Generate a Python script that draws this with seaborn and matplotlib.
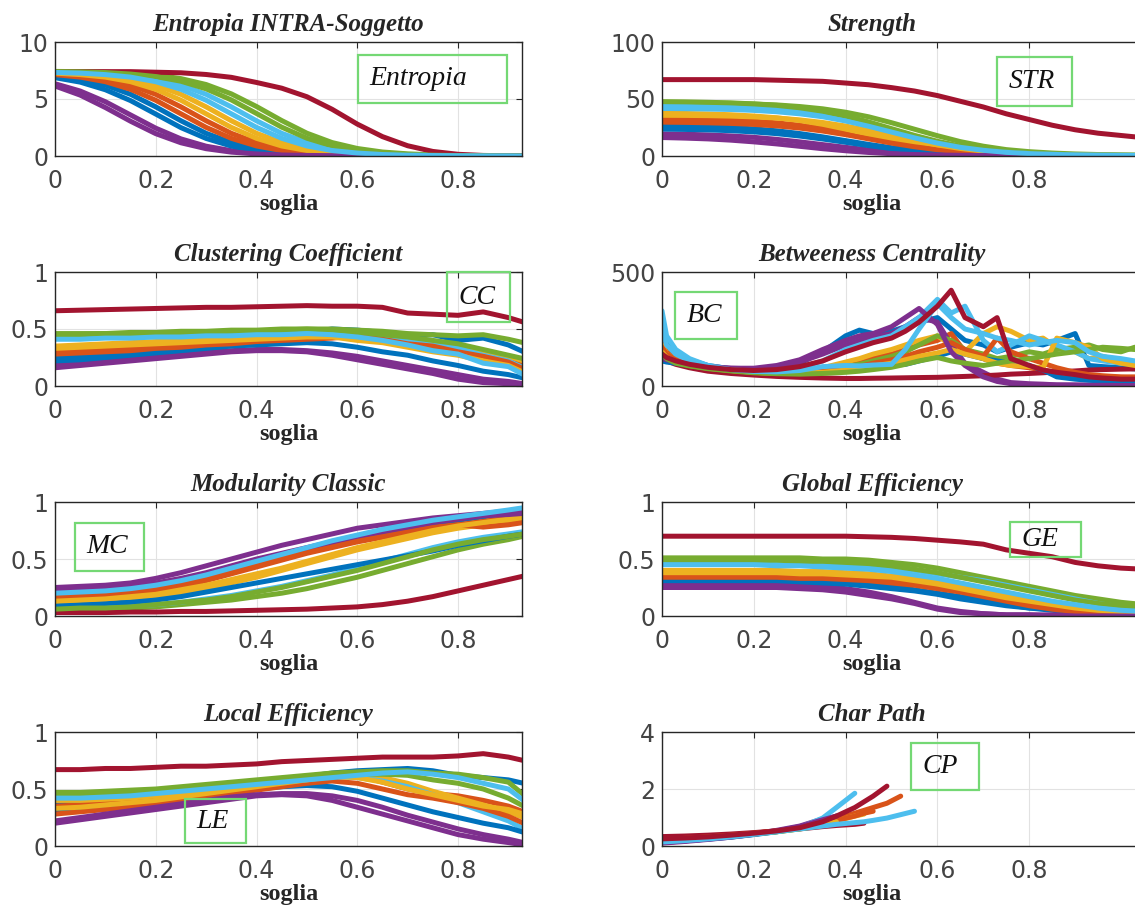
import numpy as np
import pandas as pd
import matplotlib
matplotlib.use("Agg")
import matplotlib.pyplot as plt
from matplotlib.patches import Rectangle
import seaborn as sns

nan = np.nan

# soglie (asse x) dei pannelli
soglia_sx = [0, .05, .10, .15, .20, .25, .30, .35, .40, .45, .50, .55, .60, .65, .70, .75, .80, .85, .90, .93]
soglia_dx = [0, .05, .10, .15, .20, .25, .30, .35, .40, .45, .50, .55, .60, .65, .70, .75, .80, .85, .90, .95, 1.0, 1.05]
soglia_bc = [0, .01, .03, .06, .1, .15, .2, .25, .3, .35, .4, .43, .46, .5, .53, .56, .6, .63, .66, .7,
             .73, .76, .8, .83, .86, .9, .93, .96, 1.0, 1.03, 1.05]
soglia_cp = [0, .05, .1, .15, .2, .25, .3, .35, .38, .42, .44, .46, .49, .52, .55]

# ordine colori MATLAB
colori = ["#0072BD", "#D95319", "#EDB120", "#7E2F8E", "#77AC30", "#4DBEEE", "#A2142F",
          "#0072BD", "#D95319", "#EDB120", "#7E2F8E", "#77AC30", "#4DBEEE", "#A2142F"]

xtick_lab = ["0", "0.2", "0.4", "0.6", "0.8"]

entropia = [
    [7.05, 6.75, 6.22, 5.41, 4.31, 3.09, 1.99, 1.18, 0.65, 0.35, 0.19, 0.10, 0.05, 0.03, 0.02, 0.01, 0.01, 0, 0, 0],
    [7.2, 7.05, 6.75, 6.22, 5.41, 4.31, 3.09, 1.99, 1.18, 0.65, 0.35, 0.19, 0.10, 0.05, 0.03, 0.02, 0.01, 0.01, 0, 0],
    [7.3, 7.2, 7.05, 6.75, 6.22, 5.41, 4.31, 3.09, 1.99, 1.18, 0.65, 0.35, 0.19, 0.10, 0.05, 0.03, 0.02, 0.01, 0.01, 0],
    [6.34, 5.70, 4.76, 3.60, 2.44, 1.50, 0.86, 0.47, 0.25, 0.13, 0.06, 0.04, 0.02, 0.01, 0.01, 0, 0, 0, 0, 0],
    [7.42, 7.4, 7.35, 7.26, 7.1, 6.79, 6.27, 5.45, 4.34, 3.11, 2.0, 1.18, 0.66, 0.35, 0.19, 0.10, 0.05, 0.03, 0.02, 0.01],
    [7.35, 7.3, 7.2, 7.05, 6.75, 6.22, 5.41, 4.31, 3.09, 1.99, 1.18, 0.65, 0.35, 0.19, 0.10, 0.05, 0.03, 0.02, 0.01, 0.01],
    [7.4, 7.4, 7.4, 7.4, 7.35, 7.3, 7.15, 6.9, 6.45, 5.95, 5.2, 4.1, 2.8, 1.7, 0.9, 0.4, 0.15, 0.05, 0.02, 0.0],
    [6.87, 6.48, 5.81, 4.86, 3.68, 2.49, 1.54, 0.87, 0.48, 0.26, 0.13, 0.07, 0.04, 0.02, 0.01, 0, 0, 0, 0, 0],
    [7.14, 6.92, 6.52, 5.85, 4.89, 3.7, 2.51, 1.55, 0.88, 0.48, 0.26, 0.13, 0.07, 0.04, 0.02, 0.01, 0, 0, 0, 0],
    [7.27, 7.14, 6.92, 6.52, 5.85, 4.89, 3.7, 2.51, 1.55, 0.88, 0.48, 0.26, 0.13, 0.07, 0.04, 0.02, 0.01, 0, 0, 0],
    [6.14, 5.34, 4.25, 3.05, 1.96, 1.16, 0.64, 0.34, 0.18, 0.09, 0.05, 0.03, 0.02, 0.01, 0, 0, 0, 0, 0, 0],
    [7.41, 7.38, 7.32, 7.19, 6.97, 6.56, 5.89, 4.92, 3.73, 2.53, 1.56, 0.89, 0.48, 0.26, 0.13, 0.07, 0.04, 0.02, 0.01, 0.01],
    [7.33, 7.27, 7.14, 6.92, 6.52, 5.85, 4.89, 3.7, 2.51, 1.55, 0.88, 0.48, 0.26, 0.13, 0.07, 0.04, 0.02, 0.01, 0.01, 0],
]

strength = [
    [26.5, 26.2, 25.7, 24.9, 23.8, 22.1, 19.7, 16.8, 13.5, 10.2, 7.3, 4.9, 3.2, 2.1, 1.4, 1.0, 0.8, 0.6, 0.5, 0.4, 0.3, 0.3],
    [32.6, 32.4, 32.0, 31.4, 30.5, 29.1, 27.0, 24.1, 20.5, 16.5, 12.5, 8.9, 6.0, 3.9, 2.5, 1.6, 1.1, 0.8, 0.6, 0.5, 0.4, 0.3],
    [37.6, 37.3, 36.9, 36.2, 35.1, 33.5, 31.1, 27.8, 23.6, 19.0, 14.4, 10.2, 6.9, 4.5, 2.9, 1.9, 1.2, 0.9, 0.7, 0.5, 0.4, 0.3],
    [19.4, 19.1, 18.5, 17.6, 16.4, 14.6, 12.4, 10.0, 7.6, 5.4, 3.6, 2.4, 1.5, 1.0, 0.7, 0.5, 0.4, 0.3, 0.2, 0.2, 0.1, 0.1],
    [46.8, 46.7, 46.5, 46.2, 45.6, 44.8, 43.4, 41.4, 38.4, 34.4, 29.2, 23.5, 17.8, 12.6, 8.6, 5.6, 3.8, 2.6, 1.8, 1.3, 1.0, 0.8],
    [43.7, 43.5, 43.2, 42.7, 41.9, 40.7, 38.8, 36.0, 32.2, 27.4, 22.0, 16.6, 11.8, 8.0, 5.2, 3.4, 2.2, 1.5, 1.1, 0.8, 0.6, 0.5],
    [67, 67, 67, 67, 67, 66.5, 66, 65.5, 64, 62.5, 60, 57, 53, 48, 43, 37, 32, 27, 23, 20, 18, 16],
    [23.6, 23.3, 22.9, 22.2, 21.1, 19.6, 17.5, 14.9, 12.0, 9.1, 6.5, 4.4, 2.9, 1.8, 1.2, 0.8, 0.6, 0.4, 0.3, 0.3, 0.2, 0.2],
    [29.7, 29.5, 29.1, 28.6, 27.7, 26.4, 24.5, 21.9, 18.7, 15.0, 11.3, 8.1, 5.5, 3.6, 2.3, 1.5, 1.0, 0.7, 0.5, 0.4, 0.3, 0.3],
    [35.7, 35.6, 35.4, 35.0, 34.3, 33.3, 31.7, 29.4, 26.3, 22.4, 18.0, 13.6, 9.7, 6.6, 4.3, 2.7, 1.8, 1.2, 0.9, 0.7, 0.5, 0.4],
    [16.2, 15.7, 15.0, 13.9, 12.4, 10.6, 8.5, 6.4, 4.6, 3.1, 2.0, 1.3, 0.9, 0.6, 0.4, 0.3, 0.2, 0.2, 0.1, 0.1, 0.1, 0.1],
    [47.7, 47.5, 47.1, 46.6, 45.7, 44.4, 42.3, 39.3, 35.1, 29.9, 24.0, 18.1, 12.9, 8.7, 5.7, 3.6, 2.4, 1.6, 1.1, 0.8, 0.6, 0.5],
    [41.7, 41.5, 41.2, 40.8, 40.0, 38.8, 37.0, 34.4, 30.7, 26.1, 21.0, 15.9, 11.3, 7.6, 5.0, 3.2, 2.1, 1.4, 1.0, 0.7, 0.5, 0.4],
]

clustering = [
    [0.25, 0.26, 0.28, 0.30, 0.32, 0.34, 0.36, 0.38, 0.41, 0.44, 0.47, 0.50, 0.49, 0.47, 0.44, 0.45, 0.40, 0.42, 0.36, 0.30],
    [0.30, 0.31, 0.32, 0.33, 0.34, 0.35, 0.37, 0.38, 0.40, 0.41, 0.43, 0.44, 0.42, 0.40, 0.36, 0.34, 0.32, 0.28, 0.22, 0.18],
    [0.35, 0.36, 0.37, 0.38, 0.39, 0.40, 0.41, 0.42, 0.43, 0.44, 0.45, 0.46, 0.46, 0.43, 0.41, 0.37, 0.36, 0.31, 0.26, 0.22],
    [0.18, 0.20, 0.22, 0.24, 0.26, 0.28, 0.30, 0.31, 0.32, 0.32, 0.31, 0.29, 0.26, 0.22, 0.18, 0.14, 0.10, 0.06, 0.04, 0.02],
    [0.46, 0.46, 0.46, 0.47, 0.47, 0.48, 0.48, 0.49, 0.49, 0.50, 0.50, 0.50, 0.49, 0.48, 0.46, 0.45, 0.44, 0.45, 0.41, 0.38],
    [0.43, 0.43, 0.44, 0.44, 0.45, 0.45, 0.46, 0.46, 0.47, 0.47, 0.48, 0.47, 0.45, 0.43, 0.40, 0.36, 0.33, 0.27, 0.22, 0.16],
    [0.66, 0.665, 0.67, 0.675, 0.68, 0.685, 0.69, 0.69, 0.695, 0.70, 0.705, 0.70, 0.70, 0.69, 0.64, 0.63, 0.62, 0.65, 0.60, 0.56],
    [0.22, 0.23, 0.25, 0.27, 0.29, 0.31, 0.33, 0.35, 0.36, 0.37, 0.38, 0.37, 0.34, 0.30, 0.27, 0.22, 0.18, 0.13, 0.10, 0.07],
    [0.28, 0.29, 0.30, 0.31, 0.33, 0.34, 0.36, 0.37, 0.39, 0.40, 0.41, 0.42, 0.44, 0.41, 0.37, 0.35, 0.30, 0.26, 0.21, 0.15],
    [0.33, 0.34, 0.35, 0.36, 0.37, 0.38, 0.39, 0.40, 0.41, 0.42, 0.43, 0.43, 0.40, 0.38, 0.34, 0.30, 0.27, 0.22, 0.18, 0.12],
    [0.16, 0.18, 0.20, 0.22, 0.24, 0.26, 0.28, 0.30, 0.31, 0.31, 0.30, 0.27, 0.23, 0.19, 0.15, 0.11, 0.06, 0.03, 0.02, 0.01],
    [0.45, 0.45, 0.46, 0.46, 0.46, 0.47, 0.47, 0.48, 0.48, 0.49, 0.50, 0.49, 0.47, 0.45, 0.43, 0.40, 0.37, 0.32, 0.27, 0.24],
    [0.41, 0.41, 0.42, 0.42, 0.43, 0.43, 0.44, 0.44, 0.45, 0.45, 0.46, 0.45, 0.43, 0.40, 0.36, 0.31, 0.28, 0.20, 0.17, 0.10],
]

betweeness = [
    [300, 200, 150, 115, 90, 75, 72, 80, 100, 150, 220, 245, 230, 240, 260, 280, 300, 250, 200, 180, 150, 170, 190, 180, 200, 230, 90, 85, 80, 75, 75],
    [200, 150, 120, 100, 80, 68, 60, 58, 62, 75, 95, 110, 125, 140, 160, 180, 200, 230, 150, 120, 100, 90, 80, 70, 60, 50, 45, 40, 38, 36, 35],
    [180, 140, 115, 95, 80, 70, 62, 60, 65, 80, 105, 120, 140, 160, 180, 200, 220, 180, 150, 230, 260, 240, 200, 210, 170, 150, 120, 130, 110, 100, 100],
    [130, 120, 110, 95, 85, 78, 75, 85, 105, 140, 180, 200, 215, 230, 260, 300, 280, 180, 100, 60, 30, 15, 10, 8, 5, 5, 4, 3, 3, 3, 3],
    [160, 130, 110, 95, 80, 70, 62, 60, 62, 70, 85, 95, 110, 130, 150, 180, 220, 200, 160, 140, 120, 130, 150, 140, 160, 170, 180, 160, 150, 170, 165],
    [330, 220, 160, 120, 90, 75, 68, 70, 80, 110, 160, 180, 200, 220, 260, 300, 380, 320, 350, 200, 150, 180, 220, 200, 180, 150, 120, 110, 100, 95, 90],
    [120, 110, 95, 80, 65, 55, 48, 42, 38, 35, 33, 33, 34, 35, 36, 37, 38, 40, 42, 45, 48, 52, 55, 58, 62, 66, 70, 72, 74, 75, 75],
    [110, 105, 100, 90, 80, 70, 62, 58, 60, 68, 80, 85, 88, 90, 95, 110, 130, 150, 140, 120, 110, 100, 90, 70, 40, 30, 25, 22, 20, 20, 20],
    [170, 140, 115, 95, 80, 68, 60, 56, 58, 65, 75, 85, 100, 115, 130, 150, 170, 190, 160, 130, 210, 150, 120, 100, 80, 60, 50, 45, 40, 40, 40],
    [150, 125, 105, 90, 78, 68, 60, 55, 56, 60, 70, 78, 88, 100, 115, 130, 145, 160, 140, 120, 100, 90, 85, 80, 210, 190, 170, 120, 100, 90, 90],
    [120, 115, 105, 95, 85, 78, 78, 90, 115, 160, 200, 220, 230, 260, 300, 340, 270, 150, 90, 40, 20, 10, 6, 5, 4, 3, 3, 3, 2, 2, 2],
    [140, 120, 100, 88, 76, 66, 58, 54, 52, 55, 60, 65, 72, 82, 95, 110, 125, 110, 100, 90, 100, 110, 120, 130, 140, 150, 160, 170, 165, 160, 160],
    [250, 180, 140, 110, 88, 72, 64, 62, 68, 85, 90, 88, 92, 95, 160, 250, 360, 300, 250, 230, 210, 200, 180, 190, 200, 190, 150, 130, 120, 110, 110],
    [140, 125, 110, 95, 82, 72, 68, 72, 85, 110, 150, 170, 190, 210, 240, 280, 350, 420, 300, 260, 300, 120, 90, 70, 60, 50, 40, 35, 30, 30, 30],
]

modularity = [
    [0.18, 0.19, 0.20, 0.22, 0.25, 0.29, 0.34, 0.40, 0.46, 0.52, 0.58, 0.63, 0.68, 0.72, 0.76, 0.80, 0.84, 0.87, 0.90, 0.92],
    [0.15, 0.16, 0.17, 0.19, 0.22, 0.26, 0.31, 0.37, 0.43, 0.49, 0.55, 0.60, 0.65, 0.69, 0.73, 0.77, 0.80, 0.83, 0.86, 0.88],
    [0.12, 0.13, 0.14, 0.15, 0.17, 0.20, 0.24, 0.29, 0.34, 0.40, 0.46, 0.52, 0.58, 0.63, 0.68, 0.73, 0.77, 0.80, 0.83, 0.85],
    [0.25, 0.26, 0.27, 0.29, 0.33, 0.38, 0.44, 0.50, 0.56, 0.62, 0.67, 0.72, 0.77, 0.80, 0.83, 0.86, 0.88, 0.90, 0.92, 0.93],
    [0.05, 0.06, 0.06, 0.07, 0.08, 0.10, 0.12, 0.14, 0.17, 0.20, 0.24, 0.29, 0.34, 0.40, 0.46, 0.52, 0.58, 0.63, 0.67, 0.70],
    [0.07, 0.08, 0.08, 0.09, 0.10, 0.12, 0.15, 0.18, 0.22, 0.26, 0.31, 0.36, 0.42, 0.48, 0.54, 0.60, 0.65, 0.69, 0.72, 0.74],
    [0.03, 0.03, 0.03, 0.035, 0.035, 0.04, 0.04, 0.045, 0.05, 0.055, 0.06, 0.07, 0.08, 0.10, 0.13, 0.17, 0.22, 0.27, 0.32, 0.35],
    [0.09, 0.10, 0.11, 0.12, 0.14, 0.17, 0.21, 0.25, 0.29, 0.33, 0.37, 0.41, 0.45, 0.49, 0.53, 0.57, 0.62, 0.66, 0.70, 0.72],
    [0.17, 0.18, 0.19, 0.21, 0.24, 0.28, 0.33, 0.39, 0.45, 0.51, 0.56, 0.61, 0.66, 0.70, 0.74, 0.78, 0.80, 0.78, 0.80, 0.82],
    [0.13, 0.14, 0.15, 0.17, 0.19, 0.23, 0.27, 0.32, 0.37, 0.42, 0.48, 0.54, 0.60, 0.65, 0.70, 0.75, 0.79, 0.82, 0.85, 0.87],
    [0.22, 0.23, 0.24, 0.26, 0.29, 0.33, 0.38, 0.44, 0.50, 0.55, 0.60, 0.65, 0.70, 0.74, 0.78, 0.82, 0.85, 0.88, 0.89, 0.90],
    [0.06, 0.07, 0.07, 0.08, 0.10, 0.12, 0.14, 0.17, 0.21, 0.25, 0.30, 0.35, 0.40, 0.46, 0.52, 0.58, 0.63, 0.67, 0.70, 0.72],
    [0.20, 0.21, 0.22, 0.24, 0.27, 0.31, 0.36, 0.42, 0.48, 0.54, 0.60, 0.66, 0.71, 0.76, 0.80, 0.84, 0.87, 0.90, 0.93, 0.95],
]

global_eff = [
    [0.32, 0.32, 0.32, 0.32, 0.32, 0.32, 0.31, 0.31, 0.30, 0.28, 0.26, 0.23, 0.20, 0.17, 0.14, 0.10, 0.07, 0.05, 0.03, 0.02, 0.01, 0.01],
    [0.36, 0.36, 0.36, 0.36, 0.36, 0.36, 0.35, 0.35, 0.34, 0.33, 0.31, 0.28, 0.25, 0.22, 0.18, 0.14, 0.10, 0.07, 0.05, 0.03, 0.02, 0.02],
    [0.40, 0.40, 0.40, 0.40, 0.40, 0.40, 0.39, 0.39, 0.38, 0.37, 0.35, 0.33, 0.30, 0.26, 0.22, 0.18, 0.14, 0.11, 0.08, 0.06, 0.04, 0.03],
    [0.28, 0.28, 0.28, 0.28, 0.28, 0.28, 0.27, 0.26, 0.24, 0.21, 0.17, 0.12, 0.07, 0.04, 0.02, 0.01, 0.01, 0.01, 0.01, 0.0, 0.0, 0.0],
    [0.51, 0.51, 0.51, 0.51, 0.51, 0.51, 0.51, 0.50, 0.50, 0.49, 0.47, 0.45, 0.42, 0.38, 0.34, 0.30, 0.26, 0.22, 0.18, 0.15, 0.12, 0.10],
    [0.47, 0.47, 0.47, 0.47, 0.47, 0.47, 0.46, 0.46, 0.45, 0.44, 0.42, 0.40, 0.37, 0.34, 0.31, 0.27, 0.23, 0.19, 0.15, 0.11, 0.08, 0.06],
    [0.70, 0.70, 0.70, 0.70, 0.70, 0.70, 0.70, 0.70, 0.70, 0.695, 0.69, 0.68, 0.665, 0.65, 0.63, 0.58, 0.55, 0.52, 0.47, 0.44, 0.42, 0.41],
    [0.31, 0.31, 0.31, 0.31, 0.31, 0.31, 0.30, 0.29, 0.28, 0.26, 0.24, 0.22, 0.19, 0.15, 0.12, 0.09, 0.07, 0.06, 0.05, 0.04, 0.03, 0.03],
    [0.34, 0.34, 0.34, 0.34, 0.34, 0.34, 0.33, 0.33, 0.32, 0.31, 0.29, 0.27, 0.24, 0.21, 0.17, 0.13, 0.09, 0.06, 0.04, 0.03, 0.02, 0.01],
    [0.38, 0.38, 0.38, 0.38, 0.38, 0.38, 0.37, 0.37, 0.36, 0.35, 0.34, 0.31, 0.28, 0.24, 0.20, 0.16, 0.13, 0.10, 0.07, 0.05, 0.04, 0.03],
    [0.25, 0.25, 0.25, 0.25, 0.25, 0.25, 0.24, 0.23, 0.21, 0.18, 0.15, 0.11, 0.06, 0.03, 0.02, 0.01, 0.01, 0.0, 0.0, 0.0, 0.0, 0.0],
    [0.49, 0.49, 0.49, 0.49, 0.49, 0.49, 0.48, 0.48, 0.47, 0.46, 0.44, 0.41, 0.38, 0.34, 0.30, 0.26, 0.22, 0.18, 0.14, 0.11, 0.09, 0.07],
    [0.45, 0.45, 0.45, 0.45, 0.45, 0.44, 0.44, 0.43, 0.42, 0.41, 0.39, 0.36, 0.33, 0.29, 0.25, 0.21, 0.17, 0.13, 0.10, 0.07, 0.05, 0.04],
]

local_eff = [
    [0.36, 0.37, 0.39, 0.41, 0.43, 0.46, 0.49, 0.52, 0.55, 0.58, 0.61, 0.64, 0.66, 0.67, 0.68, 0.66, 0.62, 0.60, 0.58, 0.55],
    [0.35, 0.36, 0.38, 0.40, 0.42, 0.45, 0.48, 0.51, 0.54, 0.57, 0.60, 0.63, 0.62, 0.56, 0.50, 0.46, 0.44, 0.40, 0.35, 0.30],
    [0.40, 0.40, 0.41, 0.42, 0.44, 0.46, 0.48, 0.50, 0.53, 0.56, 0.59, 0.62, 0.62, 0.60, 0.55, 0.48, 0.42, 0.36, 0.30, 0.25],
    [0.20, 0.23, 0.26, 0.29, 0.32, 0.35, 0.38, 0.41, 0.44, 0.45, 0.44, 0.40, 0.34, 0.28, 0.22, 0.16, 0.10, 0.06, 0.03, 0.01],
    [0.47, 0.47, 0.48, 0.49, 0.50, 0.52, 0.54, 0.56, 0.58, 0.60, 0.62, 0.64, 0.65, 0.66, 0.66, 0.64, 0.63, 0.60, 0.56, 0.45],
    [0.44, 0.44, 0.45, 0.46, 0.47, 0.49, 0.51, 0.53, 0.55, 0.57, 0.59, 0.61, 0.60, 0.57, 0.52, 0.45, 0.38, 0.30, 0.22, 0.15],
    [0.67, 0.67, 0.68, 0.68, 0.69, 0.70, 0.70, 0.71, 0.72, 0.74, 0.75, 0.76, 0.77, 0.78, 0.78, 0.78, 0.79, 0.81, 0.78, 0.75],
    [0.30, 0.31, 0.33, 0.35, 0.38, 0.41, 0.44, 0.47, 0.50, 0.52, 0.53, 0.52, 0.48, 0.42, 0.36, 0.30, 0.25, 0.20, 0.16, 0.12],
    [0.28, 0.30, 0.32, 0.34, 0.37, 0.40, 0.43, 0.46, 0.49, 0.52, 0.55, 0.57, 0.55, 0.50, 0.45, 0.42, 0.38, 0.33, 0.26, 0.20],
    [0.33, 0.34, 0.36, 0.38, 0.40, 0.43, 0.46, 0.49, 0.52, 0.55, 0.58, 0.61, 0.60, 0.56, 0.50, 0.45, 0.40, 0.35, 0.32, 0.28],
    [0.22, 0.25, 0.28, 0.31, 0.34, 0.37, 0.40, 0.43, 0.45, 0.46, 0.46, 0.44, 0.40, 0.34, 0.27, 0.21, 0.15, 0.10, 0.06, 0.03],
    [0.45, 0.45, 0.46, 0.47, 0.48, 0.50, 0.52, 0.54, 0.56, 0.58, 0.60, 0.62, 0.63, 0.63, 0.62, 0.58, 0.55, 0.50, 0.42, 0.35],
    [0.42, 0.42, 0.43, 0.44, 0.46, 0.48, 0.50, 0.52, 0.54, 0.56, 0.58, 0.60, 0.62, 0.64, 0.65, 0.63, 0.60, 0.55, 0.50, 0.40],
]

char_path = [
    [0.15, 0.20, 0.26, 0.33, 0.42, 0.52, 0.66, 0.90, 1.05, nan, nan, nan, nan, nan, nan],
    [0.20, 0.25, 0.30, 0.36, 0.44, 0.52, 0.64, 0.80, 0.95, 1.15, 1.25, 1.35, 1.50, 1.75, nan],
    [0.18, 0.23, 0.28, 0.34, 0.42, 0.50, 0.60, 0.75, 0.88, 1.05, 1.12, nan, nan, nan, nan],
    [0.12, 0.18, 0.25, 0.33, 0.43, 0.55, 0.70, 0.95, nan, nan, nan, nan, nan, nan, nan],
    [0.17, 0.22, 0.28, 0.35, 0.43, 0.51, 0.62, nan, nan, nan, nan, nan, nan, nan, nan],
    [0.14, 0.19, 0.25, 0.32, 0.41, 0.51, 0.65, 0.98, 1.35, 1.85, nan, nan, nan, nan, nan],
    [0.33, 0.35, 0.38, 0.42, 0.47, 0.53, 0.60, 0.68, 0.72, 0.76, 0.80, nan, nan, nan, nan],
    [0.13, 0.18, 0.24, 0.31, 0.40, 0.50, 0.63, 0.82, nan, nan, nan, nan, nan, nan, nan],
    [0.22, 0.27, 0.32, 0.38, 0.45, 0.53, 0.63, 0.78, 0.90, 1.05, 1.15, 1.22, nan, nan, nan],
    [0.19, 0.24, 0.29, 0.35, 0.43, 0.51, 0.61, 0.74, 0.85, nan, nan, nan, nan, nan, nan],
    [0.10, 0.16, 0.23, 0.31, 0.41, 0.53, 0.68, 0.92, 1.05, nan, nan, nan, nan, nan, nan],
    [0.16, 0.21, 0.27, 0.34, 0.42, 0.50, 0.60, 0.72, nan, nan, nan, nan, nan, nan, nan],
    [0.14, 0.19, 0.25, 0.32, 0.41, 0.50, 0.60, 0.70, 0.76, 0.82, 0.85, 0.90, 0.98, 1.10, 1.22],
    [0.25, 0.28, 0.32, 0.38, 0.45, 0.53, 0.64, 0.85, 1.05, 1.35, 1.55, 1.75, 2.10, nan, nan],
]

sns.set_style("white")

W, H = 1135, 922
fig = plt.figure(figsize=(W / 100, H / 100), dpi=100)


def pannello(col, top, x, curve, titolo, yticks, box, sigla):
    # geometria in pixel, come nel riferimento
    if col == 0:
        left, width, xmax, xc = 55, 467, 0.927, 0.5
    else:
        left, width, xmax, xc = 662, 482, 1.05, 0.436
    ax = fig.add_axes([left / W, (H - top - 114) / H, width / W, 114 / H])

    righe = []
    for i, c in enumerate(curve):
        for xi, yi in zip(x, c):
            righe.append((xi, yi, "s%02d" % i))
    df = pd.DataFrame(righe, columns=["soglia", "valore", "soggetto"])
    sns.lineplot(data=df, x="soglia", y="valore", hue="soggetto",
                 palette=colori[:len(curve)], legend=False, estimator=None,
                 sort=False, lw=3.6, ax=ax)

    ax.set_xlim(0, xmax)
    ax.set_ylim(yticks[0], yticks[-1])
    ax.set_xticks([0, 0.2, 0.4, 0.6, 0.8])
    ax.set_xticklabels(xtick_lab)
    ax.set_yticks(yticks)
    ax.set_yticklabels(["%g" % v for v in yticks])
    ax.tick_params(direction="in", top=True, right=True, length=4, width=0.8,
                   labelsize=17, labelcolor="#444444", color="#262626")
    ax.tick_params(axis="x", pad=9)
    ax.tick_params(axis="y", pad=5)
    ax.grid(True, color="#e2e2e2", lw=0.8)
    ax.set_axisbelow(True)
    for s in ax.spines.values():
        s.set_color("#262626")
        s.set_linewidth(1.0)

    ax.set_title(titolo, fontsize=18, family="Liberation Serif", weight="bold",
                 style="italic", pad=8, x=xc)
    ax.set_xlabel("soglia", fontsize=17.5, family="Liberation Serif", weight="bold",
                  labelpad=1, x=xc)
    ax.set_ylabel("")

    bx, by, bw, bh = box
    ax.add_patch(Rectangle((bx, by), bw, bh, transform=ax.transAxes, fill=False,
                           ec="#74d874", lw=1.6, clip_on=False, zorder=5))
    ax.text(bx + 0.024, by + bh / 2, sigla, transform=ax.transAxes, ha="left",
            va="center", fontsize=20, family="Liberation Serif", style="italic",
            color="#111111", zorder=6)
    return ax


pannello(0, 42, soglia_sx, entropia, "Entropia INTRA-Soggetto", [0, 5, 10],
         (0.649, 0.465, 0.319, 0.421), "Entropia")
pannello(1, 42, soglia_dx, strength, "Strength", [0, 50, 100],
         (0.695, 0.439, 0.156, 0.430), "STR")
pannello(0, 272, soglia_sx, clustering, "Clustering Coefficient", [0, 0.5, 1],
         (0.839, 0.561, 0.135, 0.439), "CC")
pannello(1, 272, soglia_bc, betweeness, "Betweeness Centrality", [0, 500],
         (0.027, 0.412, 0.129, 0.412), "BC")
pannello(0, 502, soglia_sx, modularity, "Modularity Classic", [0, 0.5, 1],
         (0.043, 0.395, 0.148, 0.421), "MC")
pannello(1, 502, soglia_dx, global_eff, "Global Efficiency", [0, 0.5, 1],
         (0.722, 0.518, 0.147, 0.307), "GE")
pannello(0, 732, soglia_sx, local_eff, "Local Efficiency", [0, 0.5, 1],
         (0.278, 0.026, 0.131, 0.386), "LE")
pannello(1, 732, soglia_cp, char_path, "Char Path", [0, 2, 4],
         (0.517, 0.491, 0.141, 0.412), "CP")

fig.savefig("out.png", dpi=100)
